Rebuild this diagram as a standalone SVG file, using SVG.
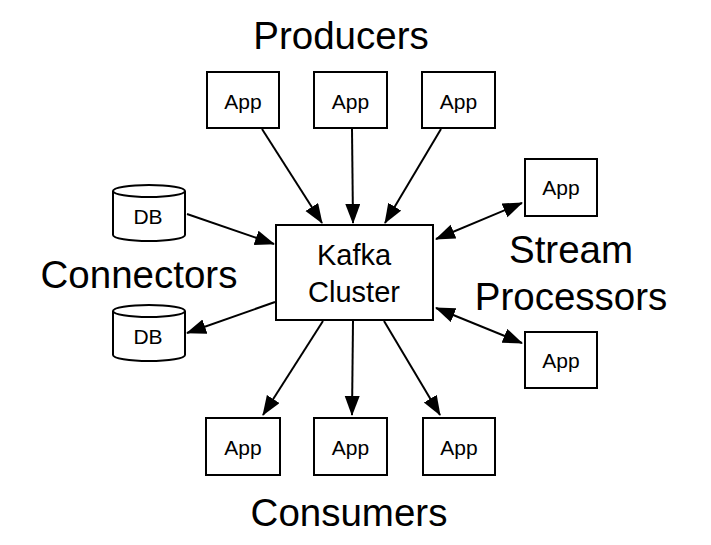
<svg xmlns="http://www.w3.org/2000/svg" width="711" height="545" viewBox="0 0 711 545">
<style>
.box{fill:#fff;stroke:#000;stroke-width:2}
.t{font-family:"Liberation Sans",Arial,sans-serif;fill:#000;text-anchor:middle}
.app{font-size:21px}
.big{font-size:38.5px}
.k{font-size:29px}
.c{stroke:#000;stroke-width:2;fill:none}
</style>
<defs>
<marker id="ah" markerUnits="userSpaceOnUse" markerWidth="21" markerHeight="16" viewBox="0 0 21 16" refX="19" refY="7.5" orient="auto-start-reverse">
<path d="M0,0 L20,7.5 L0,15 z" fill="#000"/>
</marker>
</defs>
<rect width="711" height="545" fill="#fff"/>
<g id="labels">
<text class="t big" x="341" y="49">Producers</text>
<text class="t big" x="139" y="288">Connectors</text>
<text class="t big" x="571" y="263">Stream</text>
<text class="t big" x="571" y="310">Processors</text>
<text class="t big" x="349" y="526">Consumers</text>
</g>
<g id="connectors">
<line class="c" x1="262" y1="129" x2="322" y2="223" marker-end="url(#ah)"/>
<line class="c" x1="352" y1="129" x2="353" y2="223" marker-end="url(#ah)"/>
<line class="c" x1="441" y1="129" x2="385" y2="223" marker-end="url(#ah)"/>
<line class="c" x1="187" y1="214" x2="274" y2="244" marker-end="url(#ah)"/>
<line class="c" x1="275" y1="302" x2="187" y2="333" marker-end="url(#ah)"/>
<line class="c" x1="436" y1="239" x2="522" y2="203" marker-start="url(#ah)" marker-end="url(#ah)"/>
<line class="c" x1="436" y1="308" x2="522" y2="343" marker-start="url(#ah)" marker-end="url(#ah)"/>
<line class="c" x1="323" y1="321" x2="263" y2="415" marker-end="url(#ah)"/>
<line class="c" x1="353" y1="321" x2="352" y2="415" marker-end="url(#ah)"/>
<line class="c" x1="384" y1="321" x2="440" y2="415" marker-end="url(#ah)"/>
</g>
<g id="kafka">
<rect class="box" x="276" y="225" width="157" height="95"/>
<text class="t k" x="354" y="265">Kafka</text>
<text class="t k" x="354" y="302">Cluster</text>
</g>
<g id="producer1"><rect class="box" x="207" y="72" width="72" height="56"/><text class="t app" x="243" y="109">App</text></g>
<g id="producer2"><rect class="box" x="314" y="72" width="73" height="56"/><text class="t app" x="350.5" y="109">App</text></g>
<g id="producer3"><rect class="box" x="422" y="72" width="73" height="56"/><text class="t app" x="458.5" y="109">App</text></g>
<g id="stream1"><rect class="box" x="525" y="159" width="72" height="57"/><text class="t app" x="561" y="195">App</text></g>
<g id="stream2"><rect class="box" x="525" y="332" width="72" height="56"/><text class="t app" x="561" y="368">App</text></g>
<g id="consumer1"><rect class="box" x="206" y="418" width="74" height="57"/><text class="t app" x="243" y="455">App</text></g>
<g id="consumer2"><rect class="box" x="314" y="418" width="73" height="57"/><text class="t app" x="350.5" y="455">App</text></g>
<g id="consumer3"><rect class="box" x="423" y="418" width="72" height="57"/><text class="t app" x="459" y="455">App</text></g>
<g id="db1">
<path class="box" d="M113,191 V235 A36,6 0 0 0 185,235 V191"/>
<ellipse class="box" cx="149" cy="191" rx="36" ry="6"/>
<text class="t app" x="148" y="224">DB</text>
</g>
<g id="db2">
<path class="box" d="M113,311 V355 A36,6 0 0 0 185,355 V311"/>
<ellipse class="box" cx="149" cy="311" rx="36" ry="6"/>
<text class="t app" x="148" y="344">DB</text>
</g>
</svg>
